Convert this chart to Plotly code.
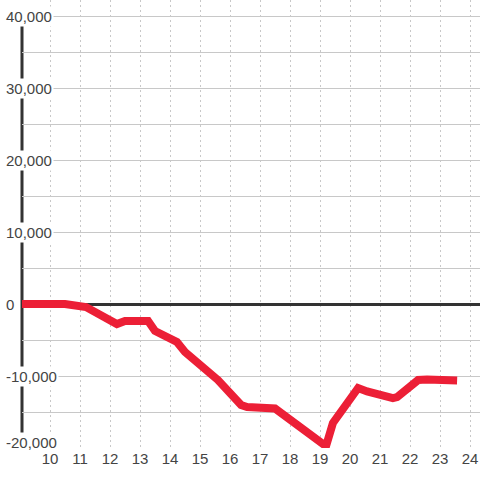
import plotly.graph_objects as go

# Data
x_vals = [9.0, 10.5, 11.2, 12.23, 12.5, 13.27, 13.5, 14.23, 14.5, 15.43, 15.6,
          16.37, 16.57, 17.5, 19.2, 19.43, 20.27, 20.57, 21.43, 21.57, 22.27,
          22.57, 23.57]
y_vals = [0, 0, -420, -2780, -2360, -2360, -3750, -5280, -6670, -9860, -10560,
          -14030, -14300, -14510, -19750, -16530, -11670, -12150, -13060, -12920,
          -10560, -10490, -10630]

x_ticks = list(range(10, 25))
x_tick_labels = [str(v) for v in x_ticks]
y_label_vals = [40000, 30000, 20000, 10000, 0, -10000, -20000]
y_label_text = ["40,000", "30,000", "20,000", "10,000", "0", "-10,000", "-20,000"]

FONT = "Liberation Sans, Arial, sans-serif"
TXT = "#444444"

fig = go.Figure()
fig.add_trace(go.Scatter(
    x=x_vals, y=y_vals, mode="lines",
    line=dict(color="#ec1f36", width=8),
    hoverinfo="skip", showlegend=False, cliponaxis=False,
))

# y-axis line spanning the labelled range
fig.add_shape(type="line", xref="paper", yref="y",
              x0=0, x1=0, y0=min(y_label_vals), y1=max(y_label_vals),
              line=dict(color="#333333", width=3), layer="between")

for v, t in zip(y_label_vals, y_label_text):
    is_bottom = v == min(y_label_vals)
    fig.add_annotation(xref="paper", yref="y", x=0, y=v, text=t,
                       xanchor="left",
                       yanchor="bottom" if is_bottom else "middle",
                       yshift=-5 if is_bottom else 0, xshift=-18,
                       showarrow=False, bgcolor="white", borderpad=1,
                       font=dict(family=FONT, size=15, color=TXT))

fig.update_layout(
    width=480, height=480,
    margin=dict(l=22, r=0, t=0, b=32),
    paper_bgcolor="white", plot_bgcolor="white",
    xaxis=dict(range=[9.0667, 24.333], tickmode="array", tickvals=x_ticks,
               ticktext=x_tick_labels, showgrid=True, gridcolor="#c8c8c8",
               griddash="2px,3px", gridwidth=1, zeroline=False, showline=False,
               ticks="", tickfont=dict(family=FONT, size=15, color=TXT)),
    yaxis=dict(range=[-20000, 42222], dtick=5000, tick0=0, showgrid=True,
               gridcolor="#c8c8c8", gridwidth=1, zeroline=True,
               zerolinecolor="#333333", zerolinewidth=3, showline=False,
               showticklabels=False, ticks=""),
)

fig.write_html("out.html", config={"displayModeBar": False},
               post_script="document.body.style.margin='0';")
